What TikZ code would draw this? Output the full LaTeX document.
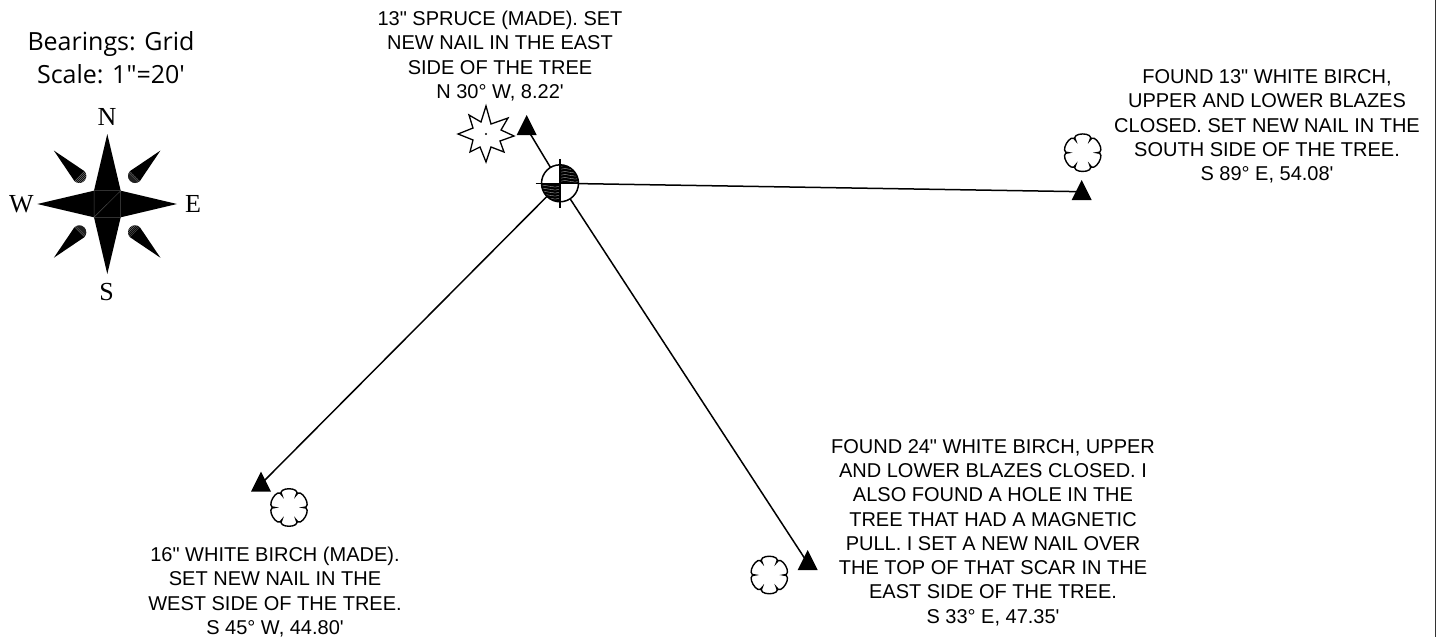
\documentclass[tikz,border=0pt]{standalone}
\usepackage{fontspec}
\setmainfont{Liberation Sans}
\newfontfamily\notefont{Liberation Sans}
\newfontfamily\headfont{Open Sans}
\newfontfamily\compfont{Liberation Serif}
\usetikzlibrary{calc}
\tikzset{
  note/.style={align=center,font=\notefont\fontsize{20}{24.3}\selectfont,inner sep=0pt,text=black},
  head/.style={align=center,font=\headfont\fontsize{25}{33}\selectfont,inner sep=0pt},
  compass/.style={font=\compfont\fontsize{26}{26}\selectfont,inner sep=0pt},
  leg/.style={line width=1.5pt,black},
  tree/.style={line width=1.4pt,black,fill=white},
  mark tri/.style={fill=black,draw=none}
}
\newcommand{\treecloud}[2]{%
  \draw[tree] ($(#1,#2)+(60:14)$)
  \foreach \a in {0,-60,-120,-180,-240,-300} { .. controls ($(#1,#2)+(\a+63:25)$) and ($(#1,#2)+(\a-3:25)$) .. ($(#1,#2)+(\a:14)$) } -- cycle;}
\newcommand{\tritop}[2]{\fill[mark tri] (#1,#2) -- ++(10,20) -- ++(-20,0) -- cycle;}
\newcommand{\petal}[3]{%
  \fill[black] ($(#1,#2)+(#3:36)$) -- ($(#1,#2)+(#3+90:7)$) arc[start angle=#3+90,delta angle=180,radius=7] -- cycle;
  \begin{scope}
   \clip ($(#1,#2)+(#3+90:7)$) arc[start angle=#3+90,delta angle=180,radius=7] -- cycle;
   \foreach \k in {-6,-4.6,...,6} \draw[white!55!black,line width=.3pt] ($(#1,#2)+(#3:\k)+(#3+90:-8)$) -- ($(#1,#2)+(#3:\k)+(#3+90:8)$);
  \end{scope}}
\begin{document}
\begin{tikzpicture}[x=1pt,y=-1pt]
\useasboundingbox (0,0) rectangle (1439,637);
\fill[white] (0,0) rectangle (1439,637);
\draw[line width=1.5pt,black!80] (1435.5,0) -- (1435.5,637);
% header
\node[head] (title) at (111,58) {Bearings: Grid\\Scale: 1"=20'};
% compass
\node[compass] (cN) at (107,117) {N};
\node[compass] (cS) at (106.5,292) {S};
\node[compass] (cW) at (21.5,204) {W};
\node[compass] (cE) at (193,204) {E};
\fill[black] (107.3,134) -- (120.7,190.7) -- (177,204) -- (120.7,217.3) -- (107.3,274) -- (94,217.3) -- (37.3,204) -- (94,190.7) -- cycle;
\draw[black!70,line width=.5pt] (94,190.7) rectangle (120.7,217.3) (94,217.3) -- (120.7,190.7);
\petal{135}{176}{-45}
\petal{79.3}{176}{-135}
\petal{79.3}{232.3}{135}
\petal{135}{232.3}{45}
% control point
\coordinate (mon) at (560,183.3);
\coordinate (pN) at (526.7,128);
\coordinate (pE) at (1081.7,191.7);
\coordinate (pSE) at (807.7,563);
\coordinate (pSW) at (261,484);
\draw[leg] (mon) -- (pN);
\draw[leg] (mon) -- (pE);
\draw[leg] (mon) -- (pSE);
\draw[leg] (mon) -- (pSW);
\tritop{526.7}{115}
\tritop{1081.7}{180}
\tritop{261}{471.7}
\tritop{807.7}{550}
\fill[white] (mon) circle (18.5);
\begin{scope}
 \clip (mon) -- ++(0,-18.5) arc[start angle=-90,delta angle=90,radius=18.5] -- cycle;
 \fill[black] (mon) ++(0,-19) rectangle ++(19,19);
 \foreach \k in {-17,-14,...,0} \draw[white!70!black,line width=.35pt] ($(mon)+(0,\k)$) sin ++(5,-.8) cos ++(5,.8) sin ++(5,.8) cos ++(5,-.8);
\end{scope}
\begin{scope}
 \clip (mon) -- ++(0,18.5) arc[start angle=90,delta angle=90,radius=18.5] -- cycle;
 \fill[black] (mon) ++(-19,0) rectangle ++(19,19);
 \foreach \k in {3,6,...,18} \draw[white!70!black,line width=.35pt] ($(mon)+(-20,\k)$) sin ++(5,-.8) cos ++(5,.8) sin ++(5,.8) cos ++(5,-.8);
\end{scope}
\draw[line width=1.5pt] (mon) circle (18.5);
\draw[line width=1.3pt] ($(mon)+(-24.5,0)$) -- ($(mon)+(24.5,0)$) ($(mon)+(0,-24.5)$) -- ($(mon)+(0,24.5)$);
% star
\draw[line width=1.3pt,fill=white] (486,106) -- (491,124) -- (508,118) -- (501,130) -- (514,136) -- (500,141) -- (504,152) -- (491,147) -- (486,162) -- (480,147) -- (470,152) -- (473,140) -- (458,134) -- (473,128) -- (469,115) -- (481,122) -- cycle;
\fill (486,134) circle (1.2);
% trees
\treecloud{1082.7}{152.7}
\treecloud{289}{507.5}
\treecloud{769.3}{575}
% notes
\node[note] (n1) at (500,56) {13" SPRUCE (MADE). SET\\NEW NAIL IN THE EAST\\SIDE OF THE TREE\\N 30° W, 8.22'};
\node[note] (n2) at (1267,126.5) {FOUND 13" WHITE BIRCH,\\UPPER AND LOWER BLAZES\\CLOSED. SET NEW NAIL IN THE\\SOUTH SIDE OF THE TREE.\\S 89° E, 54.08'};
\node[note] (n3) at (993,532.5) {FOUND 24" WHITE BIRCH, UPPER\\AND LOWER BLAZES CLOSED. I\\ALSO FOUND A HOLE IN THE\\TREE THAT HAD A MAGNETIC\\PULL. I SET A NEW NAIL OVER\\THE TOP OF THAT SCAR IN THE\\EAST SIDE OF THE TREE.\\S 33° E, 47.35'};
\node[note] (n4) at (275,592) {16" WHITE BIRCH (MADE).\\SET NEW NAIL IN THE\\WEST SIDE OF THE TREE.\\S 45° W, 44.80'};
\end{tikzpicture}
\end{document}
